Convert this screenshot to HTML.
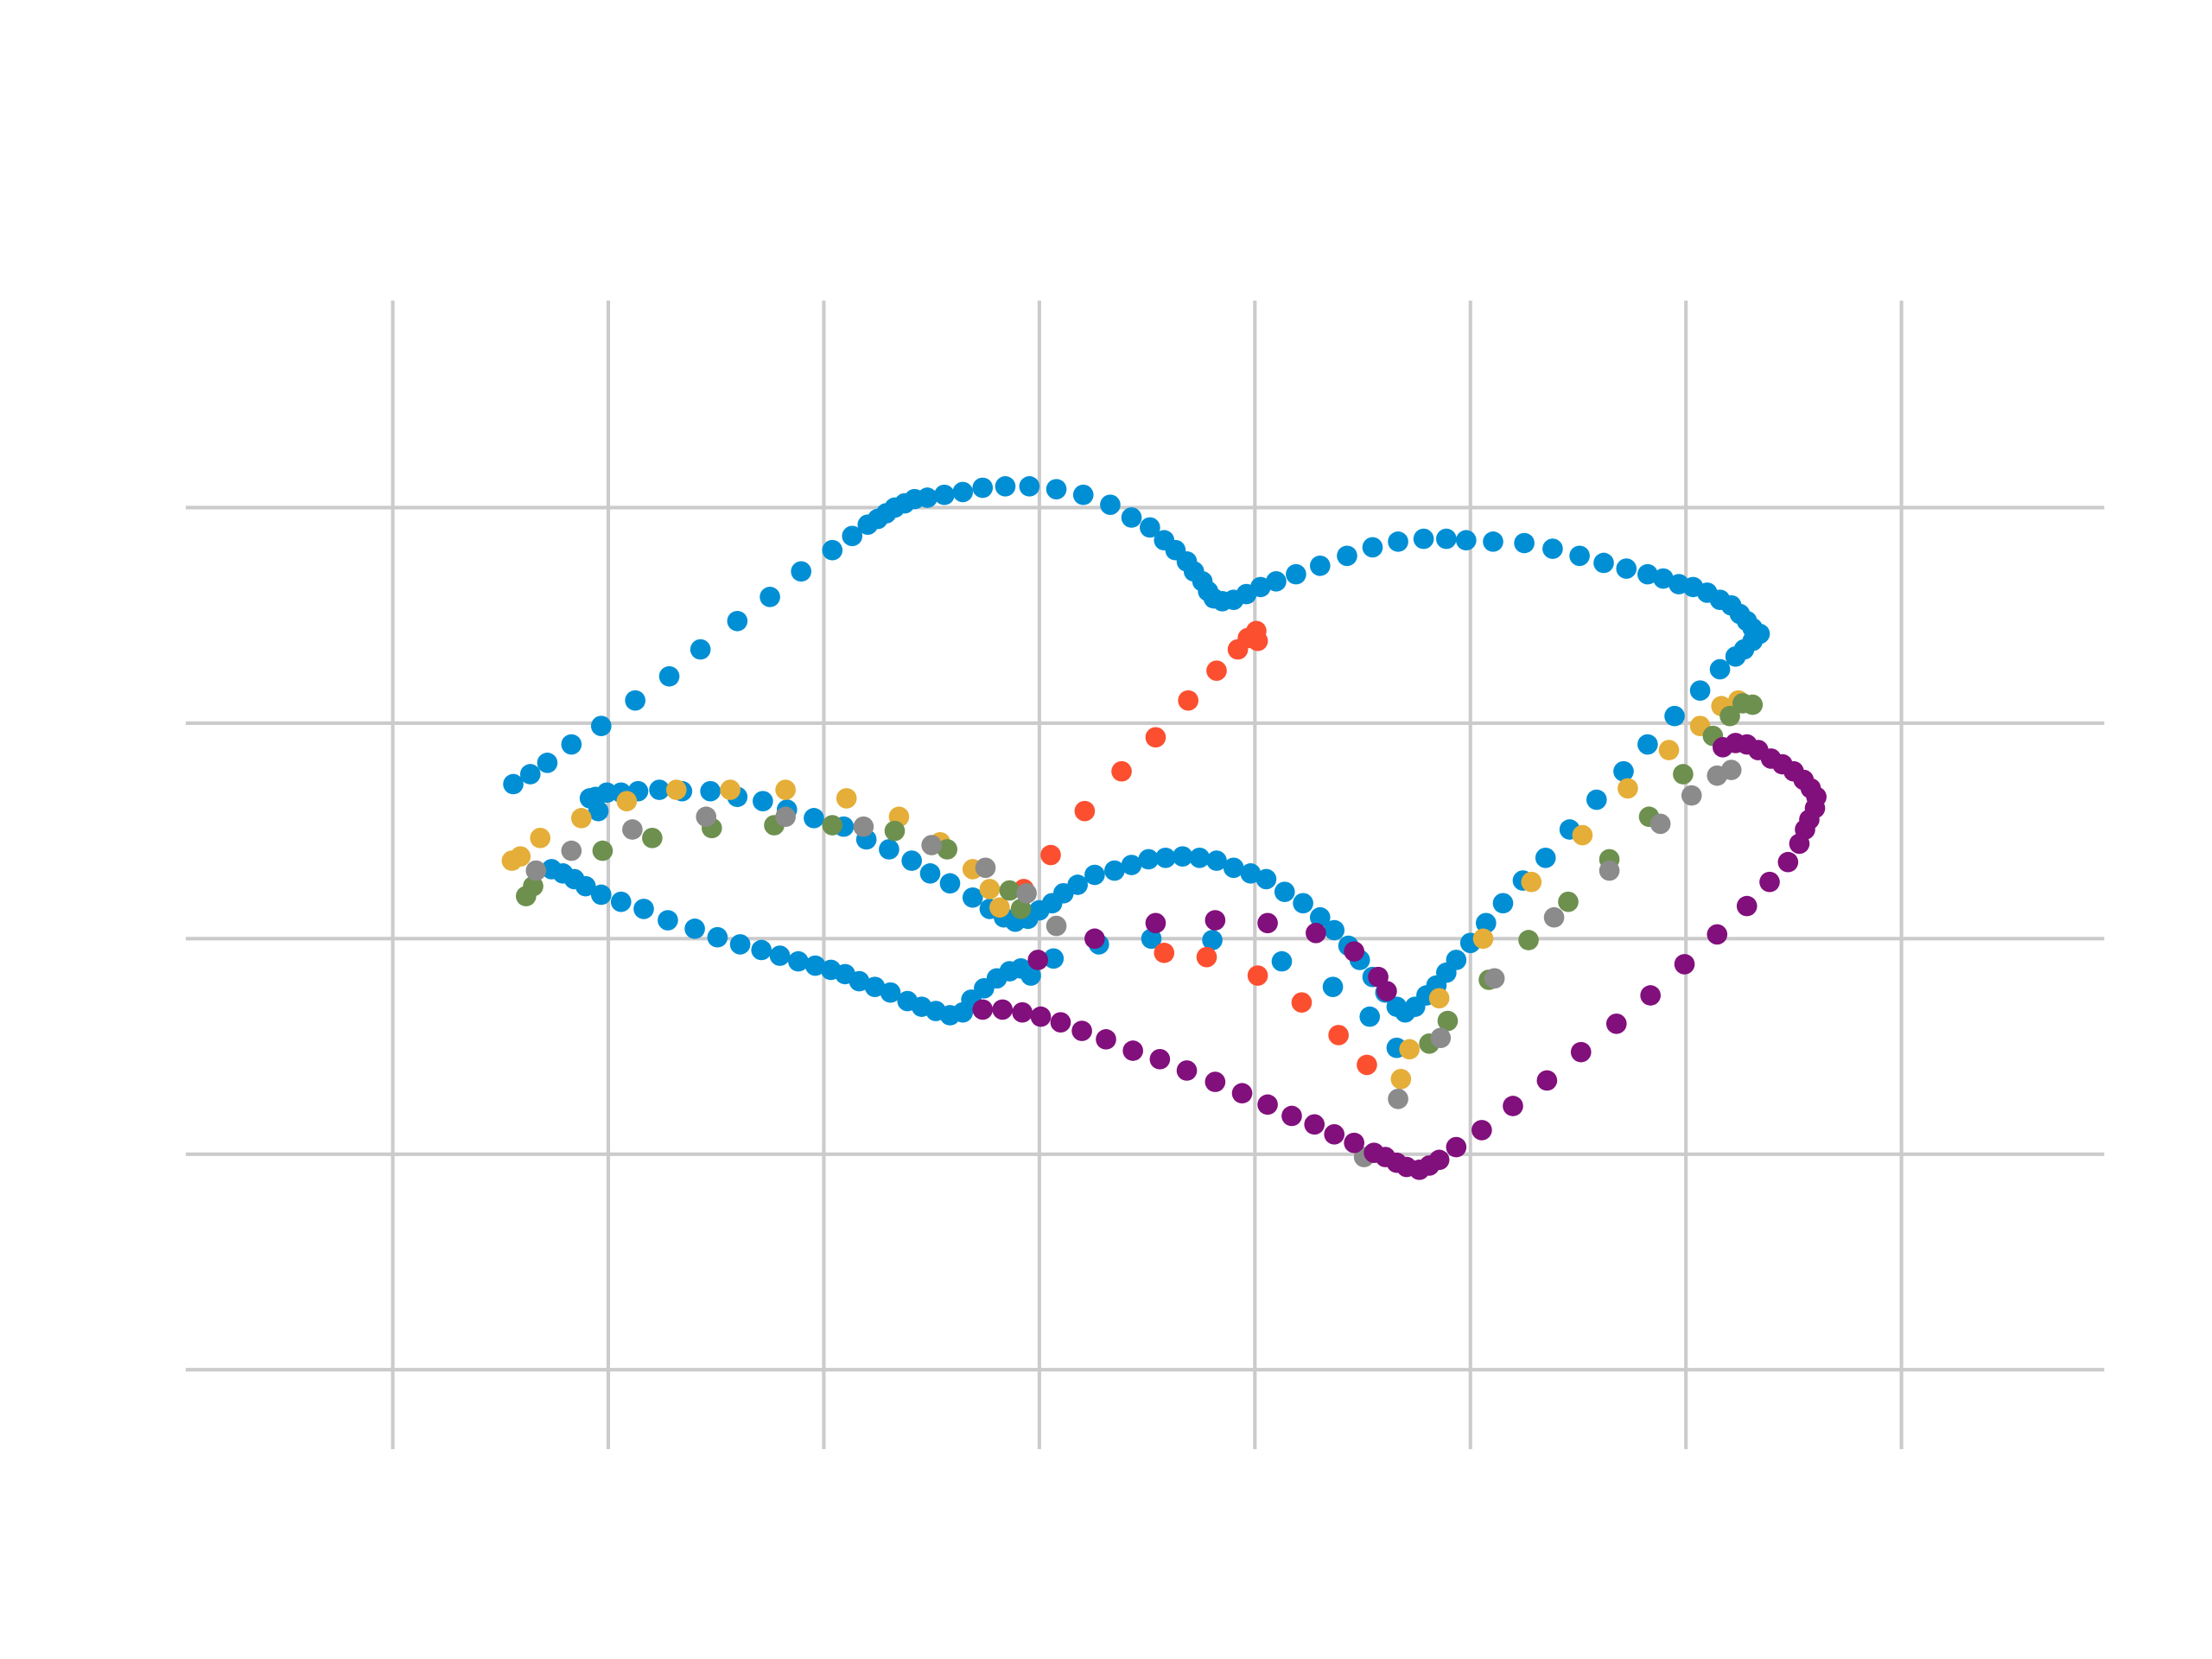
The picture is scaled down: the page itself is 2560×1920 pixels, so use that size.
<!DOCTYPE html>
<html><head><meta charset="utf-8"><style>html,body{margin:0;padding:0;background:#fff}svg{display:block}</style></head>
<body>
<svg id="chart" xmlns="http://www.w3.org/2000/svg" width="2560" height="1920" viewBox="0 0 1560 1170">
<rect width="1560" height="1170" fill="#fff"/>
<g id="grid"></g>
<g id="marks"></g>
</svg>
<script>
const xTicks = [-152, 0, 152, 304, 456, 608, 760, 912];
const yTicks = [304, 152, 0, -152, -304];
const blueSeries = [[-67,109],[-55,116],[-43,124],[-26,137],[-5,150],[19,168],[43,185],[65,204],[91,224],[114,241],[136,259],[158,274],[172,284],[183,292],[190,296],[196,300],[202,304],[209,307],[216,310],[225,311],[237,313],[250,315],[264,318],[280,319],[297,319],[316,317],[335,313],[354,306],[369,297],[382,290],[392,281],[400,274],[408,266],[413,259],[419,252],[423,245],[427,240],[433,238],[441,239],[450,243],[460,248],[471,252],[485,257],[502,263],[521,270],[539,276],[557,280],[575,282],[591,282],[605,281],[624,280],[646,279],[666,275],[685,270],[702,265],[718,261],[733,257],[744,254],[755,250],[765,248],[775,244],[784,239],[792,235],[798,229],[803,224],[807,219],[812,215],[807,210],[801,204],[795,199],[784,190],[770,175],[752,157],[733,137],[716,118],[697,98],[678,77],[661,57],[645,41],[631,25],[619,11],[608,-3],[598,-15],[591,-24],[584,-33],[577,-40],[569,-48],[562,-52],[556,-48],[548,-38],[539,-27],[530,-15],[522,-5],[512,6],[502,15],[490,25],[477,33],[464,42],[453,46],[441,50],[429,55],[417,57],[405,58],[393,57],[381,56],[369,52],[357,48],[343,45],[331,38],[321,32],[313,25],[304,20],[296,14],[287,12],[279,15],[269,21],[257,29],[241,39],[227,46],[214,55],[198,63],[182,70],[166,79],[145,85],[126,91],[109,97],[91,100],[72,104],[52,104],[36,105],[21,104],[9,103],[-1,103],[-9,100],[-13,99],[-7,90],[-40,49],[-32,46],[-24,42],[-16,37],[-5,31],[9,26],[25,21],[42,13],[61,7],[77,1],[93,-4],[108,-8],[121,-12],[134,-16],[146,-19],[157,-22],[167,-25],[177,-30],[188,-34],[199,-38],[211,-44],[221,-48],[231,-51],[241,-54],[250,-52],[256,-43],[265,-35],[274,-28],[283,-23],[291,-21],[298,-26],[314,-14],[346,-4],[383,0],[426,-1],[475,-16],[511,-34],[537,-55],[556,-77]];
const redSeries = [[457,217],[451,212],[458,210],[444,204],[429,189],[409,168],[386,142],[362,118],[336,90],[312,59],[293,35],[392,-10],[422,-13],[458,-26],[489,-45],[515,-68],[535,-89]];
const yellowSeries = [[-68,55],[-62,58],[-48,71],[-19,85],[13,97],[48,105],[86,105],[125,105],[168,99],[205,86],[234,68],[257,49],[269,35],[276,22],[797,168],[785,164],[770,150],[748,133],[719,106],[687,73],[651,40],[617,0],[586,-42],[565,-78],[559,-99]];
const greenSeries = [[-58,30],[-53,37],[-4,62],[31,71],[73,78],[117,80],[158,80],[202,76],[239,63],[283,34],[291,21],[807,165],[800,166],[791,157],[779,143],[758,116],[734,86],[706,56],[677,26],[649,-1],[621,-29],[592,-58],[579,-74]];
const graySeries = [[-51,48],[-26,62],[17,77],[69,86],[125,86],[180,79],[228,66],[266,50],[295,32],[316,9],[792,119],[782,115],[764,101],[742,81],[706,48],[667,15],[625,-28],[587,-70],[557,-113],[533,-154]];
const purpleSeries = [[786,135],[795,138],[803,137],[811,133],[820,127],[828,123],[836,118],[843,112],[848,106],[852,100],[851,92],[847,84],[844,77],[840,67],[832,54],[819,40],[803,23],[782,3],[759,-18],[735,-40],[711,-60],[686,-80],[662,-100],[638,-118],[616,-135],[598,-147],[586,-156],[579,-160],[572,-163],[563,-161],[556,-158],[548,-154],[540,-151],[526,-144],[512,-138],[498,-131],[482,-125],[465,-117],[447,-109],[428,-101],[408,-93],[389,-85],[370,-79],[351,-71],[334,-65],[319,-59],[305,-55],[292,-52],[278,-50],[264,-50],[303,-15],[343,0],[386,11],[428,13],[465,11],[499,4],[526,-9],[543,-27],[549,-37]];

const NS = 'http://www.w3.org/2000/svg';
const X0 = 429, Y0 = 662, K = 1;
function xs(v){ return X0 + v*K; }
function ys(v){ return Y0 - v*K; }
const grid = document.getElementById('grid');
xTicks.forEach(function(t){
  const l = document.createElementNS(NS,'line');
  l.setAttribute('x1', xs(t)); l.setAttribute('x2', xs(t));
  l.setAttribute('y1', 212); l.setAttribute('y2', 1022);
  l.setAttribute('stroke','#cbcbcb'); l.setAttribute('stroke-width','2.5');
  
  
  grid.appendChild(l);
});
yTicks.forEach(function(t){
  const l = document.createElementNS(NS,'line');
  l.setAttribute('x1', 131); l.setAttribute('x2', 1484);
  l.setAttribute('y1', ys(t)); l.setAttribute('y2', ys(t));
  l.setAttribute('stroke','#cbcbcb'); l.setAttribute('stroke-width','2.5');
  
  
  grid.appendChild(l);
});
const marks = document.getElementById('marks');
function draw(series, color, name){
  const g = document.createElementNS(NS,'g');
  
  
  series.forEach(function(p){
    const c = document.createElementNS(NS,'circle');
    c.setAttribute('cx', xs(p[0])); c.setAttribute('cy', ys(p[1]));
    c.setAttribute('r', 7.2); c.setAttribute('fill', color);
    
    
    g.appendChild(c);
  });
  marks.appendChild(g);
}
draw(blueSeries, '#008fd5', 'series-blue');
draw(redSeries, '#fc4f30', 'series-red');
draw(yellowSeries, '#e5ae38', 'series-yellow');
draw(greenSeries, '#6d904f', 'series-green');
draw(graySeries, '#8b8b8b', 'series-gray');
draw(purpleSeries, '#810f7c', 'series-purple');
</script>
</body></html>
